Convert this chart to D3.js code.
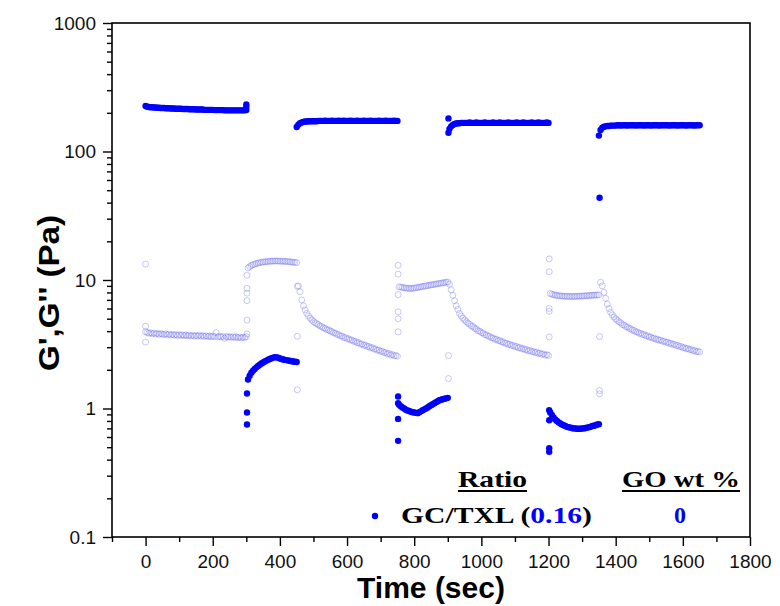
<!DOCTYPE html>
<html>
<head>
<meta charset="utf-8">
<script src="https://cdn.jsdelivr.net/npm/d3@7"></script>
<style>
  html, body { margin: 0; padding: 0; background: #fff; }
  svg { display: block; }
</style>
</head>
<body>
<svg id="chart" width="780" height="606"></svg>
<script>
// ---- Axis ticks -------------------------------------------------------------
const xMajorTicks = [0, 200, 400, 600, 800, 1000, 1200, 1400, 1600, 1800];
const xMinorTicks = [-100, 100, 300, 500, 700, 900, 1100, 1300, 1500, 1700];
const yMajorTicks = [0.1, 1, 10, 100, 1000];
const yTickLabels = ["0.1", "1", "10", "100", "1000"];

// ---- Step-strain runs, sampled every 5 s ------------------------------------
const STEP = 5;
// start time (s) of each run: low strain / high strain alternating
const storageStart = [0, 305, 450, 755, 905, 1205, 1350];
const lossStart    = [0, 305, 455, 755, 905, 1205, 1355];

// G' (storage modulus, Pa)
const storeA = [226,223,222,221,221,220,220,219,219,218,
                218,218,217,217,217,216,216,216,215,215,
                215,215,214,214,214,214,213,213,213,213,
                212,212,212,212,212,211,211,211,211,211,
                211,210,210,210,210,210,210,209,209,209,
                209,209,209,209,209,209,209,209,209,209,
                210];
const storeB = [1.68,1.80,1.90,1.97,2.03,2.09,2.14,2.19,2.24,2.28,
                2.32,2.36,2.40,2.43,2.46,2.49,2.51,2.50,2.48,2.45,
                2.43,2.41,2.39,2.38,2.36,2.35,2.33,2.32,2.31,2.30];
const storeC = [155,162,166,168,170,171,171,172,172,172,
                172,172,172,173,173,173,173,174,173,173,
                173,174,173,173,173,174,173,173,174,173,
                173,173,174,173,173,173,174,173,173,173,
                174,173,173,173,174,173,173,173,173,174,
                173,173,173,174,173,173,173,173,174,173,
                173];
const storeD = [1.07,1.04,1.02,1.00,0.98,0.965,0.955,0.945,0.935,0.93,
                0.925,0.92,0.935,0.95,0.97,0.985,1.00,1.02,1.04,1.06,
                1.08,1.10,1.12,1.14,1.16,1.17,1.18,1.19,1.20,1.21];
const storeE = [150,157,161,164,165,166,166,167,167,167,
                167,167,168,167,167,167,168,167,167,167,
                167,168,167,167,167,167,168,167,167,167,
                168,167,167,167,167,168,167,167,167,167,
                168,167,167,167,168,167,167,167,167,168,
                167,167,167,168,167,167,167,167,168,167];
const storeF = [0.93,0.89,0.85,0.82,0.80,0.78,0.765,0.75,0.74,0.73,
                0.72,0.715,0.71,0.705,0.70,0.70,0.695,0.695,0.695,0.70,
                0.70,0.705,0.71,0.715,0.72,0.73,0.735,0.74,0.75,0.755];
const storeG = [133,147,153,156,157,158,158,159,159,159,
                159,160,160,159,160,160,160,159,160,160,
                160,160,159,160,160,160,160,159,160,160,
                160,159,160,160,160,160,159,160,160,160,
                160,160,159,160,160,160,160,159,160,160,
                160,160,159,160,160,160,160,159,160,160,
                160];

// G'' (loss modulus, Pa)
const lossA = [3.95,3.90,3.85,3.88,3.82,3.86,3.80,3.84,3.78,3.83,
               3.79,3.76,3.81,3.74,3.79,3.73,3.77,3.72,3.76,3.70,
               3.75,3.71,3.74,3.69,3.73,3.68,3.72,3.67,3.71,3.66,
               3.70,3.66,3.72,3.65,3.69,3.64,3.68,3.63,3.67,3.62,
               3.66,3.62,3.90,3.61,3.65,3.60,3.64,3.52,3.63,3.59,
               3.62,3.58,3.62,3.57,3.61,3.56,3.60,3.55,3.59,3.56,
               3.62];
const lossB = [12.4,12.7,12.95,13.15,13.3,13.45,13.55,13.65,13.75,13.8,
               13.85,13.9,13.95,14.0,14.0,14.05,14.05,14.05,14.05,14.0,
               14.0,14.0,13.95,13.95,13.9,13.85,13.8,13.75,13.7,13.65];
const lossC = [9.0,8.1,7.0,6.3,5.85,5.5,5.25,5.05,4.9,4.75,
               4.65,4.55,4.48,4.38,4.33,4.23,4.20,4.11,4.09,4.00,
               3.97,3.88,3.86,3.77,3.76,3.67,3.66,3.57,3.57,3.49,
               3.49,3.41,3.41,3.33,3.33,3.25,3.25,3.17,3.18,3.10,
               3.11,3.04,3.04,2.97,2.98,2.90,2.91,2.84,2.85,2.78,
               2.79,2.72,2.73,2.66,2.68,2.61,2.63,2.57,2.59,2.55];
const lossD = [8.85,8.8,8.75,8.7,8.65,8.62,8.6,8.6,8.62,8.65,
               8.7,8.75,8.8,8.85,8.9,8.95,9.0,9.05,9.1,9.15,
               9.2,9.25,9.3,9.35,9.4,9.45,9.5,9.55,9.6,9.65];
const lossE = [9.3,8.4,7.6,6.9,6.3,5.9,5.5,5.25,5.05,4.88,
               4.74,4.62,4.53,4.39,4.34,4.21,4.16,4.03,4.00,3.90,
               3.87,3.76,3.74,3.65,3.64,3.55,3.54,3.46,3.46,3.38,
               3.38,3.30,3.30,3.22,3.22,3.15,3.16,3.09,3.10,3.03,
               3.04,2.97,2.98,2.91,2.93,2.86,2.88,2.81,2.83,2.76,
               2.78,2.72,2.74,2.68,2.70,2.64,2.66,2.60,2.62,2.59];
const lossF = [7.85,7.75,7.68,7.62,7.58,7.55,7.52,7.5,7.48,7.47,
               7.46,7.45,7.45,7.45,7.45,7.46,7.47,7.48,7.49,7.5,
               7.52,7.53,7.55,7.56,7.58,7.6,7.62,7.63,7.65,7.66];
const lossG = [9.6,9.0,8.0,7.2,6.5,6.0,5.6,5.35,5.15,4.98,
               4.85,4.73,4.64,4.50,4.46,4.34,4.31,4.20,4.17,4.07,
               4.05,3.95,3.94,3.85,3.84,3.76,3.76,3.68,3.68,3.60,
               3.60,3.52,3.53,3.45,3.46,3.39,3.40,3.33,3.34,3.27,
               3.28,3.21,3.22,3.15,3.16,3.09,3.10,3.03,3.04,2.97,
               2.98,2.92,2.93,2.87,2.88,2.82,2.83,2.77,2.78,2.75];

// Readings taken right at each strain switch
const storeJumpT = [300, 300, 302, 302, 302, 752, 752, 752, 752, 902, 902,
                    1202, 1202, 1202, 1202, 1352];
const storeJumpV = [232, 222, 0.75, 0.93, 1.31, 0.56, 0.83, 1.24, 1.10, 181, 140,
                    0.49, 0.46, 0.97, 0.81, 43.7];
const lossJumpT = [0, 0, 0, 302, 302, 302, 302, 302, 302, 452, 452, 452,
                   752, 752, 752, 752, 752, 752, 902, 902,
                   1202, 1202, 1202, 1202, 1202, 1352, 1352, 1352];
const lossJumpV = [13.3, 4.37, 3.29, 10.9, 8.6, 7.9, 6.9, 4.87, 3.8, 8.9, 3.65, 1.4,
                   13.0, 11.1, 7.7, 5.65, 5.0, 3.95, 2.58, 1.71,
                   14.6, 11.6, 6.0, 5.7, 3.6, 3.63, 1.38, 1.30];

// ---- Build point tables -----------------------------------------------------
const storageRuns = [storeA, storeB, storeC, storeD, storeE, storeF, storeG];
const lossRuns = [lossA, lossB, lossC, lossD, lossE, lossF, lossG];

function runsToPoints(runs, starts, jumpT, jumpV) {
  const pts = [];
  runs.forEach((vals, r) => vals.forEach((v, i) => pts.push({ t: starts[r] + i * STEP, v })));
  jumpT.forEach((t, i) => pts.push({ t, v: jumpV[i] }));
  return pts;
}
const storagePts = runsToPoints(storageRuns, storageStart, storeJumpT, storeJumpV);
const lossPts = runsToPoints(lossRuns, lossStart, lossJumpT, lossJumpV);

// ---- Scales -----------------------------------------------------------------
const svg = d3.select("#chart");
const box = { left: 112, right: 750, top: 23, bottom: 537 };
const x = d3.scaleLinear().domain([-100, 1800]).range([box.left, box.right]);
const y = d3.scaleLog().domain([0.1, 1000]).range([box.bottom, box.top]);

const BLUE = "#0000ff";
const AXIS_FONT = "'Liberation Sans', Arial, sans-serif";
const SERIF = "'Liberation Serif', 'Times New Roman', serif";

// ---- Axes -------------------------------------------------------------------
function styleAxis(g) {
  g.select(".domain").remove();
  g.selectAll(".tick line").attr("stroke", "#000").attr("stroke-width", 1.4);
  g.selectAll(".tick text")
    .attr("fill", "#111")
    .style("font-family", AXIS_FONT)
    .style("font-size", "19px");
}

svg.append("g")
  .attr("transform", `translate(0,${box.bottom})`)
  .call(d3.axisBottom(x).tickValues(xMinorTicks).tickSize(5).tickFormat(""))
  .call(styleAxis);
svg.append("g")
  .attr("transform", `translate(0,${box.bottom})`)
  .call(d3.axisBottom(x).tickValues(xMajorTicks).tickSize(9).tickPadding(9)
        .tickFormat(d3.format("d")))
  .call(styleAxis);

const yMinorTicks = [];
yMajorTicks.slice(0, -1).forEach(d => { for (let k = 2; k <= 9; k++) yMinorTicks.push(d * k); });

svg.append("g")
  .attr("transform", `translate(${box.left},0)`)
  .call(d3.axisLeft(y).tickValues(yMinorTicks).tickSize(5).tickFormat(""))
  .call(styleAxis);
svg.append("g")
  .attr("transform", `translate(${box.left},0)`)
  .call(d3.axisLeft(y).tickValues(yMajorTicks).tickSize(9).tickPadding(7)
        .tickFormat((d, i) => yTickLabels[i]))
  .call(styleAxis);

// frame
svg.append("rect")
  .attr("x", box.left).attr("y", box.top)
  .attr("width", box.right - box.left).attr("height", box.bottom - box.top)
  .attr("fill", "none").attr("stroke", "#000").attr("stroke-width", 1.6);

// ---- Data marks -------------------------------------------------------------
const marks = svg.append("g");

// G'' as open rings
marks.append("g").selectAll("circle")
  .data(lossPts).join("circle")
  .attr("cx", d => x(d.t)).attr("cy", d => y(d.v)).attr("r", 3.0)
  .attr("fill", "none")
  .attr("stroke", "#6060e8").attr("stroke-opacity", 0.5).attr("stroke-width", 0.7);

// G' as filled dots
marks.append("g").selectAll("circle")
  .data(storagePts).join("circle")
  .attr("cx", d => x(d.t)).attr("cy", d => y(d.v)).attr("r", 3.2)
  .attr("fill", BLUE);

// ---- Axis titles ------------------------------------------------------------
svg.append("text")
  .attr("x", (box.left + box.right) / 2).attr("y", 598)
  .attr("text-anchor", "middle")
  .style("font-family", AXIS_FONT).style("font-weight", "bold").style("font-size", "30px")
  .attr("fill", "#000")
  .text("Time (sec)");

svg.append("text")
  .attr("transform", "translate(59,293) rotate(-90)")
  .attr("text-anchor", "middle")
  .attr("textLength", 156).attr("lengthAdjust", "spacingAndGlyphs")
  .style("font-family", AXIS_FONT).style("font-weight", "bold").style("font-size", "30px")
  .attr("fill", "#000")
  .text("G',G'' (Pa)");

// ---- Legend -----------------------------------------------------------------
const legend = svg.append("g")
  .style("font-family", SERIF).style("font-weight", "bold").style("font-size", "24px");

function heading(xl, width, label) {
  legend.append("text")
    .attr("x", xl).attr("y", 487)
    .attr("textLength", width).attr("lengthAdjust", "spacingAndGlyphs")
    .attr("fill", "#000").text(label);
  legend.append("line")
    .attr("x1", xl).attr("x2", xl + width).attr("y1", 491).attr("y2", 491)
    .attr("stroke", "#000").attr("stroke-width", 2);
}
heading(458, 69, "Ratio");
heading(622, 118, "GO wt %");

legend.append("circle").attr("cx", 375).attr("cy", 516).attr("r", 3.2).attr("fill", BLUE);

const row = legend.append("text")
  .attr("x", 401).attr("y", 523)
  .attr("textLength", 191).attr("lengthAdjust", "spacingAndGlyphs")
  .attr("fill", "#000");
row.append("tspan").text("GC/TXL (");
row.append("tspan").attr("fill", BLUE).text("0.16");
row.append("tspan").text(")");

legend.append("text")
  .attr("x", 680).attr("y", 523).attr("text-anchor", "middle")
  .attr("fill", BLUE).text("0");
</script>
</body>
</html>
